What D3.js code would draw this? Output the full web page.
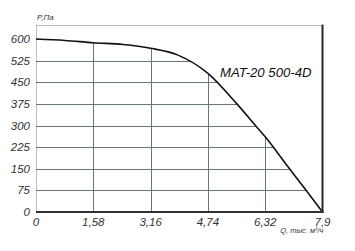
<!DOCTYPE html>
<html><head><meta charset="utf-8">
<script src="https://cdn.jsdelivr.net/npm/d3@7"></script>
<style>body{margin:0;background:#fff}svg{display:block}text{font-family:"Liberation Sans",Arial,sans-serif;font-style:italic;fill:#333}</style>
</head><body>
<script>
const flowQ = [0, 0.8, 1.58, 2.4, 3.16, 3.9, 4.74, 5.54, 6.05, 6.32, 6.96, 7.4, 7.9];
const pressureP = [600, 595, 587, 581, 568, 545, 481, 375, 300, 261, 155, 83, 0];
const xTicks = [0, 1.58, 3.16, 4.74, 6.32, 7.9];
const xTickLabels = ["0", "1,58", "3,16", "4,74", "6,32", "7,9"];
const yTicks = [0, 75, 150, 225, 300, 375, 450, 525, 600];
const title = "MAT-20 500-4D";
const yLabel = "P,Па";
const xLabel = "Q, тыс. м³/ч";

const W = 355, H = 251;
const L = 36, R = 322.5, T = 24.6, B = 212;
const x = d3.scaleLinear().domain([0, 7.9]).range([L, R]);
const y = d3.scaleLinear().domain([0, 650]).range([B, T]);
const svg = d3.select("body").append("svg").attr("width", W).attr("height", H);

const pts = flowQ.map((q, i) => [q, pressureP[i]]);
const area = d3.area().x(d => x(d[0])).y0(B).y1(d => y(d[1])).curve(d3.curveMonotoneX);
const line = d3.line().x(d => x(d[0])).y(d => y(d[1])).curve(d3.curveMonotoneX);

svg.append("clipPath").attr("id", "under").append("path").attr("d", area(pts));

svg.append("line").attr("x1", L).attr("x2", R).attr("y1", Math.round(T) + 0.5).attr("y2", Math.round(T) + 0.5)
  .attr("stroke", "#b8c2c2").attr("stroke-width", 1);
svg.append("line").attr("x1", L + 0.5).attr("x2", L + 0.5).attr("y1", T).attr("y2", B)
  .attr("stroke", "#b8c2c2").attr("stroke-width", 1);

const g = svg.append("g").attr("clip-path", "url(#under)");
g.selectAll("line.h").data(yTicks.filter(v => v > 0)).join("line")
  .attr("x1", L).attr("x2", R)
  .attr("y1", d => Math.round(y(d)) + 0.5).attr("y2", d => Math.round(y(d)) + 0.5)
  .attr("stroke", "#667777").attr("stroke-width", 1);
g.selectAll("line.v").data(xTicks.slice(1, -1)).join("line")
  .attr("x1", d => Math.round(x(d)) + 0.5).attr("x2", d => Math.round(x(d)) + 0.5)
  .attr("y1", T).attr("y2", B)
  .attr("stroke", "#667777").attr("stroke-width", 1);

svg.append("path").attr("d", line(pts)).attr("fill", "none").attr("stroke", "#111").attr("stroke-width", 1.6);

svg.append("line").attr("x1", R).attr("x2", R).attr("y1", T).attr("y2", B + 1)
  .attr("stroke", "#1f2b2b").attr("stroke-width", 2);
svg.append("line").attr("x1", L).attr("x2", R + 1).attr("y1", B).attr("y2", B)
  .attr("stroke", "#333").attr("stroke-width", 2);

svg.selectAll("text.yt").data(yTicks).join("text")
  .attr("x", 30).attr("y", d => y(d) + 4)
  .attr("text-anchor", "end").attr("font-size", 11.5).text(d => d);
svg.selectAll("text.xt").data(xTicks).join("text")
  .attr("x", d => x(d)).attr("y", B + 14)
  .attr("text-anchor", "middle").attr("font-size", 11.5).text((d, i) => xTickLabels[i]);

svg.append("text").attr("x", 37).attr("y", 20).attr("font-size", 8).text(yLabel);
svg.append("text").attr("x", R + 1).attr("y", 233).attr("text-anchor", "end").attr("font-size", 7.5).text(xLabel);
svg.append("text").attr("x", 220).attr("y", 77).attr("font-size", 13.2).style("fill", "#111").text(title);
</script>
</body></html>
